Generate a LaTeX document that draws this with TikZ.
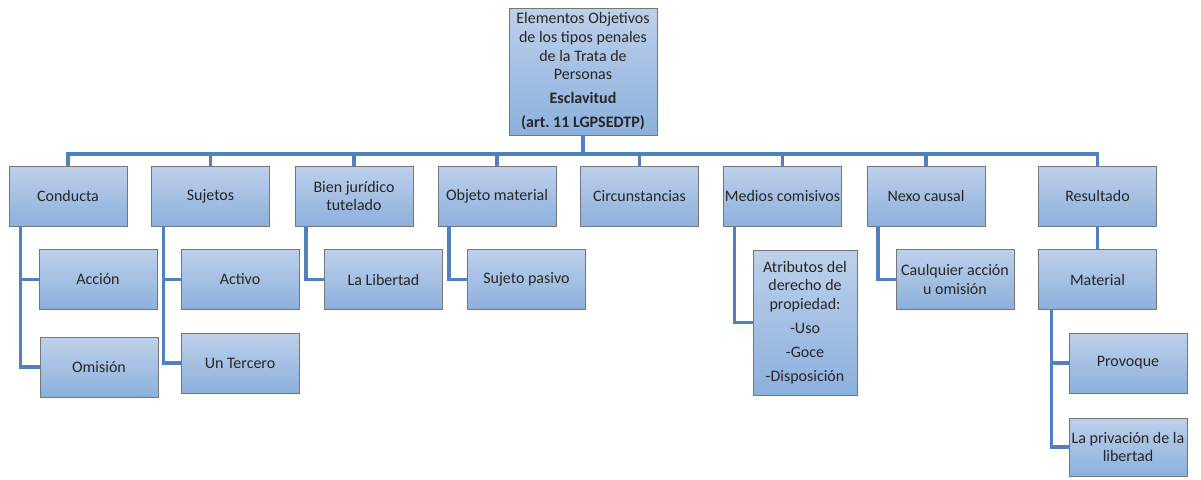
\documentclass[tikz,border=0pt]{standalone}
\usepackage{fontspec}
\setmainfont{Carlito}
\usepackage{xcolor}
\definecolor{boxtop}{RGB}{190,208,234}
\definecolor{boxbottom}{RGB}{140,176,221}
\definecolor{boxedge}{RGB}{115,118,125}
\definecolor{linkblue}{RGB}{79,129,189}

\tikzset{
  elem/.style={draw=boxedge, top color=boxtop, bottom color=boxbottom,
    minimum width=88.5pt, minimum height=45pt, inner sep=1pt,
    align=center, text=black!85, font=\fontsize{12}{14}\selectfont},
  link/.style={linkblue, line width=2.4pt},
}

\begin{document}
\begin{tikzpicture}[x=0.75pt, y=-0.75pt]
    \useasboundingbox (0,0) rectangle (1201,479);

    % Title box
    \node[elem, minimum width=111pt, minimum height=95pt] (titulo) at (583,71.5)
        {Elementos Objetivos\\de los tipos penales\\de la Trata de\\Personas\\[4pt]
         \textbf{Esclavitud}\\[4pt]\textbf{(art.\ 11 LGPSEDTP)}};

    % First level
    \node[elem] (conducta) at (68,196) {Conducta};
    \node[elem] (sujetos) at (210.5,196) {Sujetos};
    \node[elem] (bien) at (354,196) {Bien jurídico\\tutelado};
    \node[elem] (objeto) at (497,196) {Objeto material};
    \node[elem] (circ) at (639.5,196) {Circunstancias};
    \node[elem] (medios) at (782.5,196) {Medios comisivos};
    \node[elem] (nexo) at (926,196) {Nexo causal};
    \node[elem] (resultado) at (1097.5,196) {Resultado};

    % Second level
    \node[elem] (accion) at (98,279.5) {Acción};
    \node[elem] (omision) at (99,367) {Omisión};
    \node[elem] (activo) at (240,279.5) {Activo};
    \node[elem] (tercero) at (240,363) {Un Tercero};
    \node[elem] (libertad) at (383.5,279.5) {La Libertad};
    \node[elem] (pasivo) at (526.5,279.5) {Sujeto pasivo};
    \node[elem, minimum width=78pt, minimum height=108.75pt] (atributos) at (805,322.5)
        {Atributos del\\derecho de\\propiedad:\\[4pt]-Uso\\[4pt]-Goce\\[4pt]-Disposición};
    \node[elem] (cualquier) at (955,279.5) {Caulquier acción\\u omisión};
    \node[elem] (material) at (1097.5,279.5) {Material};

    % Third level
    \node[elem] (provoque) at (1128,363) {Provoque};
    \node[elem, minimum height=43.5pt] (privacion) at (1128,447) {La privación de la\\libertad};

    % Bus under the title
    \coordinate (bus) at (583,154);
    \draw[link] (titulo.south) -- (titulo.south |- bus);
    \draw[link] (conducta.north) |- (bus) -| (resultado.north);
    \foreach \n in {sujetos, bien, objeto, circ, medios, nexo}
        \draw[link] (\n.north) -- (\n.north |- bus);

    % Branches to the children
    \draw[link] ([xshift=9pt]conducta.south west) |- (accion.west);
    \draw[link] ([xshift=9pt]conducta.south west) |- (omision.west);
    \draw[link] ([xshift=9pt]sujetos.south west) |- (activo.west);
    \draw[link] ([xshift=9pt]sujetos.south west) |- (tercero.west);
    \draw[link] ([xshift=8.5pt]bien.south west) |- (libertad.west);
    \draw[link] ([xshift=8.5pt]objeto.south west) |- (pasivo.west);
    \draw[link] ([xshift=8.5pt]medios.south west) |- (atributos.west);
    \draw[link] ([xshift=8.5pt]nexo.south west) |- (cualquier.west);
    \draw[link] (resultado.south) -- (material.north);
    \draw[link] ([xshift=10pt]material.south west) |- (provoque.west);
    \draw[link] ([xshift=10pt]material.south west) |- (privacion.west);
\end{tikzpicture}
\end{document}
